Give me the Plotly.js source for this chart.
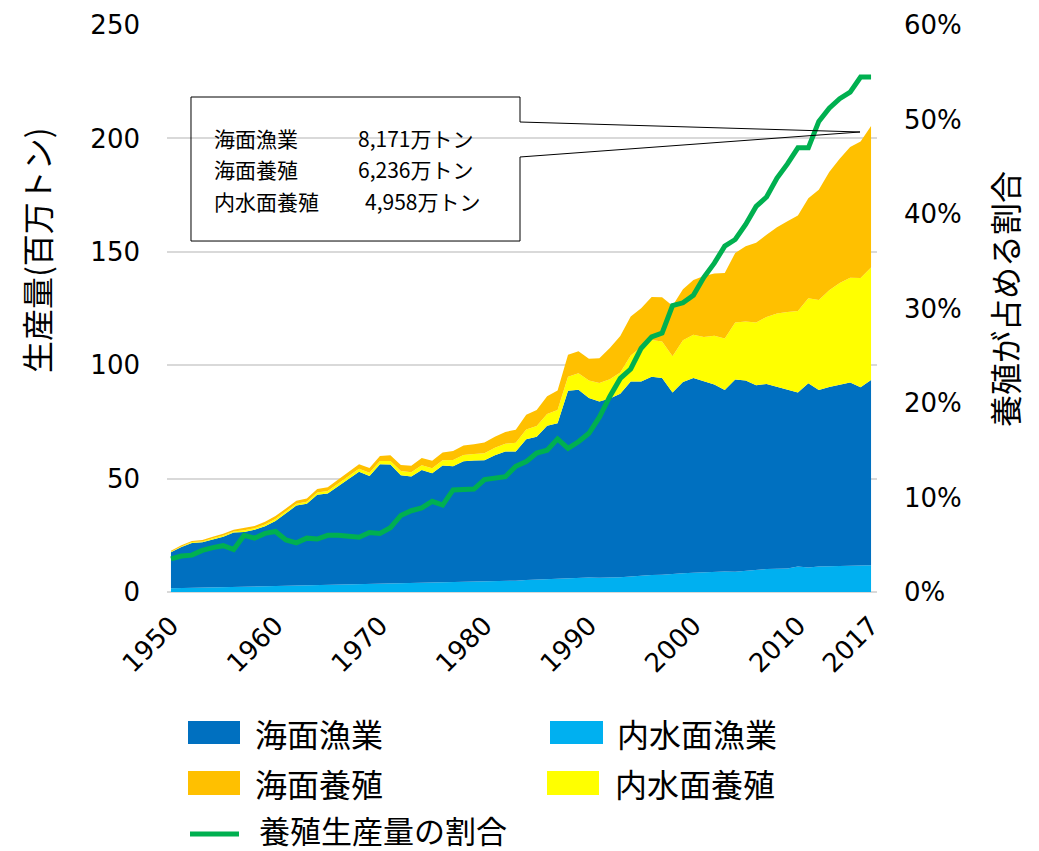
<!DOCTYPE html>
<html>
<head>
<meta charset="utf-8">
<script src="https://cdn.plot.ly/plotly-3.0.1.min.js"></script>
<style>html,body{margin:0;padding:0;background:#fff;}#chart{width:1039px;height:851px;}</style>
</head>
<body>
<div id="chart"></div>
<script>
const years = [1950,1951,1952,1953,1954,1955,1956,1957,1958,1959,
  1960,1961,1962,1963,1964,1965,1966,1967,1968,1969,
  1970,1971,1972,1973,1974,1975,1976,1977,1978,1979,
  1980,1981,1982,1983,1984,1985,1986,1987,1988,1989,
  1990,1991,1992,1993,1994,1995,1996,1997,1998,1999,
  2000,2001,2002,2003,2004,2005,2006,2007,2008,2009,
  2010,2011,2012,2013,2014,2015,2016,2017];

// 内水面漁業 (百万トン)
const inlandCapture = [1.6,1.7,1.7,1.9,2.0,2.0,2.2,2.3,2.3,2.5,
  2.6,2.7,2.8,2.9,3.0,3.1,3.3,3.4,3.5,3.6,
  3.7,3.8,3.9,4.0,4.0,4.1,4.2,4.3,4.4,4.5,
  4.6,4.7,4.8,5.0,5.3,5.5,5.8,5.9,6.2,6.3,
  6.4,6.3,6.3,6.5,6.8,7.2,7.5,7.6,8.1,8.3,
  8.5,8.7,8.8,9.0,8.9,9.4,9.8,10.1,10.2,10.4,
  11.2,10.8,11.2,11.3,11.3,11.4,11.6,11.8];

// 海面漁業
const marineCapture = [15.9,18.1,19.9,20.0,21.2,22.4,24.0,24.2,25.1,26.5,
  28.7,32.1,35.3,36.0,39.9,40.3,43.2,46.5,49.5,47.6,
  52.6,52.4,47.6,46.9,49.8,48.3,51.6,51.2,53.2,53.5,
  53.5,55.6,57.2,57.0,62.0,63.0,67.5,68.5,82.5,82.9,
  79.1,77.7,79.0,80.9,86.0,85.6,87.4,86.8,79.9,84.3,
  85.9,84.2,82.7,80.1,84.8,83.8,81.4,81.6,80.2,79.0,
  76.8,81.2,77.9,79.1,80.0,81.0,78.7,81.7];

// 内水面養殖
const inlandAqua = [0.3,0.3,0.4,0.4,0.5,0.5,0.5,0.7,0.7,0.8,
  0.9,0.8,0.8,0.9,1.0,1.1,1.2,1.3,1.3,1.4,
  1.5,1.6,1.8,1.9,2.1,2.2,2.3,2.7,2.8,2.8,
  3.1,3.3,3.4,3.8,4.3,4.7,5.2,5.8,6.2,7.3,
  7.8,8.2,8.5,9.4,11.5,15.2,16.2,16.0,16.0,18.4,
  19.0,19.5,21.5,22.7,25.1,26.1,27.6,29.6,32.4,34.1,
  35.9,37.5,39.7,42.7,44.9,46.2,48.2,49.6];

// 海面養殖
const marineAqua = [0.4,0.5,0.5,0.6,0.7,0.8,0.7,1.0,1.0,1.2,
  1.3,1.2,1.3,1.4,1.5,1.7,1.8,1.9,2.0,2.1,
  2.2,2.5,2.7,2.9,3.2,3.3,3.4,4.0,4.2,4.3,
  4.7,4.9,5.2,5.7,6.5,7.1,7.8,8.6,9.7,9.6,
  9.5,10.9,13.8,16.1,17.2,17.1,19.0,19.6,22.2,22.5,
  24.2,26.9,27.4,28.8,30.7,33.2,35.2,36.2,38.0,40.0,
  42.1,44.1,48.6,52.1,54.8,57.6,60.1,62.4];

// 養殖生産量の割合 (%)
const aquaShare = [3.5,3.8,3.9,4.4,4.7,4.9,4.5,6.0,5.7,6.2,
  6.4,5.5,5.2,5.7,5.6,6.0,6.0,5.9,5.8,6.3,
  6.2,6.8,8.1,8.6,8.9,9.6,9.2,10.8,10.9,10.9,
  11.9,12.0,12.2,13.3,13.8,14.7,15.0,16.2,15.2,15.9,
  16.8,18.5,20.7,22.6,23.6,25.8,27.0,27.4,30.3,30.6,
  31.4,33.3,34.8,36.6,37.3,38.9,40.8,41.8,43.8,45.3,
  47.0,47.0,49.8,51.2,52.2,52.9,54.5,54.5];

const xTickVals = [1950,1960,1970,1980,1990,2000,2010,2017];
const xTickText = ["1950","1960","1970","1980","1990","2000","2010","2017"];

const calloutLabels = ["海面漁業","海面養殖","内水面養殖"];
const calloutValues = ["8,171万トン","6,236万トン","4,958万トン"];

const names = {mc:"海面漁業", ic:"内水面漁業", ma:"海面養殖", ia:"内水面養殖", share:"養殖生産量の割合"};
const colors = {mc:"#0070C0", ic:"#00B0F0", ma:"#FFC000", ia:"#FFFF00", share:"#00B050"};

const NUM = "DejaVu Sans, sans-serif";
const JP = "Noto Sans CJK JP, sans-serif";

function area(y, key){
  return {x: years, y: y, type:'scatter', mode:'lines', stackgroup:'one',
    name: names[key], line:{width:0, color:colors[key]}, fillcolor: colors[key],
    hoverinfo:'skip', showlegend:false};
}

const traces = [
  area(inlandCapture,'ic'),
  area(marineCapture,'mc'),
  area(inlandAqua,'ia'),
  area(marineAqua,'ma'),
  {x: years, y: aquaShare, type:'scatter', mode:'lines', yaxis:'y2', name:names.share,
   line:{color:colors.share, width:5}, hoverinfo:'skip', showlegend:false}
];

// pixel -> paper helpers (plot area 167..877 x 25..592)
const L=167, R=877, T=25, B=592;
const px = v => (v-L)/(R-L);
const py = v => (B-v)/(B-T);

const shapes = [];
const annotations = [];

// callout box
const pts = [[191,97],[520,97],[520,122],[860,132],[520,157],[520,241],[191,241]];
shapes.push({type:'path', xref:'paper', yref:'paper',
  path: 'M ' + pts.map(p => px(p[0]).toFixed(4)+','+py(p[1]).toFixed(4)).join(' L ') + ' Z',
  line:{color:'#000', width:1}, fillcolor:'rgba(0,0,0,0)', layer:'above'});
const rowsY = [138,169.5,201];
const valX = [357,357,364];
for(let i=0;i<3;i++){
  annotations.push({xref:'paper', yref:'paper', x:px(213), y:py(rowsY[i]), xanchor:'left', yanchor:'middle',
    text:calloutLabels[i], showarrow:false, borderpad:0, font:{family:JP, size:21, color:'#000'}});
  annotations.push({xref:'paper', yref:'paper', x:px(valX[i]), y:py(rowsY[i]), xanchor:'left', yanchor:'middle',
    text:calloutValues[i], showarrow:false, borderpad:0, font:{family:JP, size:21, color:'#000'}});
}

// axis titles
annotations.push({xref:'paper', yref:'paper', x:px(36), y:py(250), xanchor:'center', yanchor:'middle',
  text:'生産量(百万トン)', textangle:-90, showarrow:false, font:{family:JP, size:32, color:'#000'}});
annotations.push({xref:'paper', yref:'paper', x:px(1004), y:py(299), xanchor:'center', yanchor:'middle',
  text:'養殖が占める割合', textangle:-90, showarrow:false, font:{family:JP, size:32, color:'#000'}});

// custom legend
const legendItems = [
  {key:'mc', x0:188, x1:240, y0:721, y1:744, tx:253, ty:733},
  {key:'ic', x0:550, x1:603, y0:721, y1:744, tx:615, ty:733},
  {key:'ma', x0:188, x1:240, y0:771, y1:795, tx:253, ty:783},
  {key:'ia', x0:547, x1:599, y0:771, y1:795, tx:613, ty:783}
];
legendItems.forEach(it => {
  shapes.push({type:'rect', xref:'paper', yref:'paper', x0:px(it.x0), x1:px(it.x1), y0:py(it.y1), y1:py(it.y0),
    fillcolor:colors[it.key], line:{width:0}});
  annotations.push({xref:'paper', yref:'paper', x:px(it.tx), y:py(it.ty), xanchor:'left', yanchor:'middle',
    text:names[it.key], showarrow:false, font:{family:JP, size:32, color:'#000'}});
});
shapes.push({type:'line', xref:'paper', yref:'paper', x0:px(190), x1:px(239), y0:py(834), y1:py(834),
  line:{color:colors.share, width:5}});
annotations.push({xref:'paper', yref:'paper', x:px(257), y:py(829), xanchor:'left', yanchor:'middle',
  text:names.share, showarrow:false, font:{family:JP, size:31, color:'#000'}});

const layout = {
  width:1039, height:851,
  margin:{l:L, r:1039-R, t:T, b:851-B, pad:0},
  paper_bgcolor:'#fff', plot_bgcolor:'#fff',
  showlegend:false,
  xaxis:{range:[1949.62,2017.57], tickvals:xTickVals, ticktext:xTickText, tickangle:-45,
    showgrid:false, zeroline:false, showline:false, ticks:'', ticklabelstandoff:12,
    tickfont:{family:NUM, size:26, color:'#000'}},
  yaxis:{range:[0,250], dtick:50, showgrid:true, gridcolor:'#D9D9D9', gridwidth:2,
    zeroline:true, zerolinecolor:'#D9D9D9', zerolinewidth:2, showline:false, ticks:'',
    ticklabelstandoff:26, tickfont:{family:NUM, size:26, color:'#000'}},
  yaxis2:{range:[0,60], dtick:10, ticksuffix:'%', overlaying:'y', side:'right', showgrid:false,
    zeroline:false, showline:false, ticks:'', ticklabelstandoff:26,
    tickfont:{family:NUM, size:26, color:'#000'}},
  shapes:shapes,
  annotations:annotations
};

Plotly.newPlot('chart', traces, layout, {displayModeBar:false, staticPlot:true});
</script>
</body>
</html>
